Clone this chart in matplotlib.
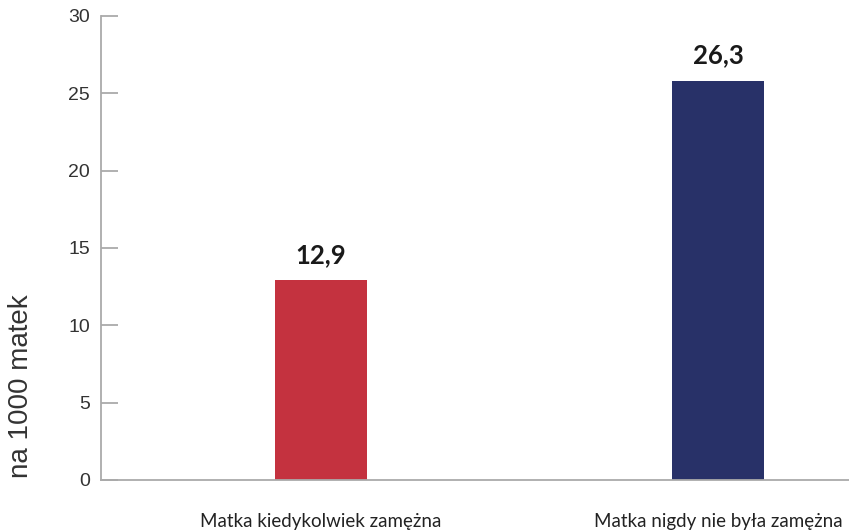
import matplotlib
matplotlib.use("Agg")
import matplotlib.pyplot as plt

categories = ["Matka kiedykolwiek zamężna", "Matka nigdy nie była zamężna"]
values = [12.9, 25.8]
value_labels = ["12,9", "26,3"]
colors = ["#c4323f", "#283168"]
yticks = [0, 5, 10, 15, 20, 25, 30]

fig = plt.figure(figsize=(8.49, 5.31), dpi=100)
ax = fig.add_axes([101/849, 1-480/531, 1-101/849, (480-16)/531])

x = list(range(len(categories)))
ax.bar(x, values, width=0.234, color=colors, zorder=2)
for xi, v, lab in zip(x, values, value_labels):
    ax.text(xi, v + 1.12, lab, ha="center", va="baseline", fontsize=18.5,
            fontweight="bold", family="Lato", color="#1a1a1a")

ax.set_xlim(-0.554, 1.33)
ax.set_ylim(0, 30)
ax.set_yticks(yticks)
ax.set_yticklabels([str(t) for t in yticks], family="Liberation Sans",
                   fontsize=14, color="#333333")
ax.tick_params(axis="y", direction="in", length=12, width=1.3,
               color="#aaaaaa", pad=8)
ax.set_xticks(x)
ax.set_xticklabels(categories, family="Lato", fontsize=13.5, color="#222222")
ax.tick_params(axis="x", length=0, pad=24)

for s in ["top", "right"]:
    ax.spines[s].set_visible(False)
for s in ["left", "bottom"]:
    ax.spines[s].set_color("#aaaaaa")
    ax.spines[s].set_linewidth(1.3)

fig.text(21/849, 1-386/531, "na 1000 matek", rotation=90, ha="center",
         va="center", fontsize=20, family="Liberation Sans", color="#333333")

fig.savefig("out.png", dpi=100)
